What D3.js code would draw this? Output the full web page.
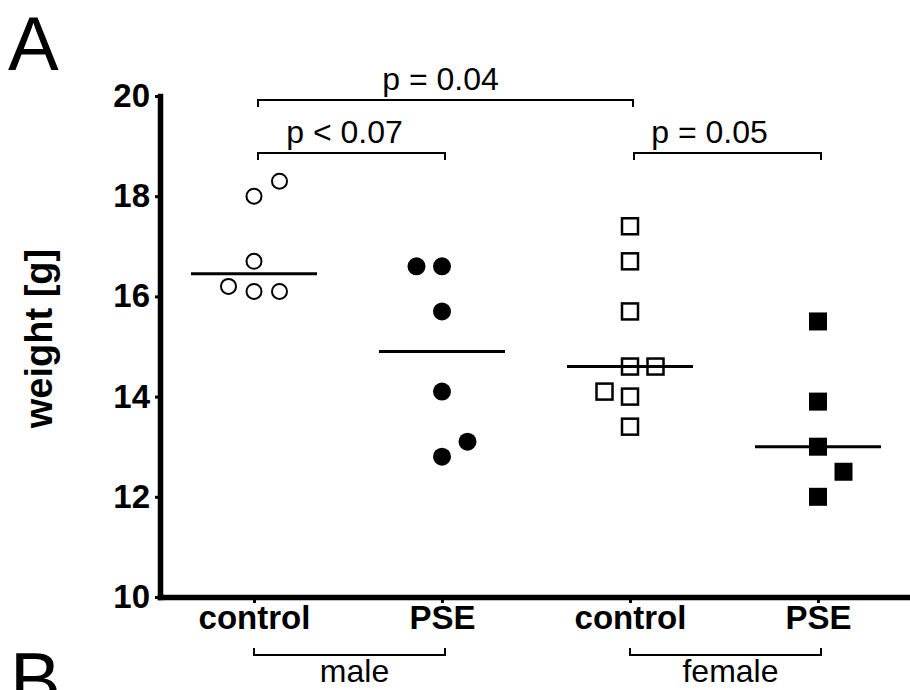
<!DOCTYPE html>
<html>
<head>
<meta charset="utf-8">
<script src="https://cdnjs.cloudflare.com/ajax/libs/d3/7.8.5/d3.min.js"></script>
<style>
  html, body { margin: 0; padding: 0; background: #fff; }
  svg { display: block; font-family: "Liberation Sans", Arial, sans-serif; }
</style>
</head>
<body>
<svg id="chart" width="910" height="690"></svg>
<script>
// ---------- data ----------
const groupIds = ["maleControl", "malePSE", "femaleControl", "femalePSE"];
const tickLabels = ["control", "PSE", "control", "PSE"];
const yTicks = [10, 12, 14, 16, 18, 20];

const maleControl   = [18.0, 18.3, 16.7, 16.2, 16.1, 16.1];
const malePSE       = [16.6, 16.6, 15.7, 14.1, 12.8, 13.1];
const femaleControl = [17.4, 16.7, 15.7, 14.6, 14.6, 14.1, 14.0, 13.4];
const femalePSE     = [15.5, 13.9, 13.0, 12.5, 12.0];

// column-scatter slot of each point (-1 left, 0 centre, 1 right)
const maleControlSlot   = [0, 1, 0, -1, 0, 1];
const malePSESlot       = [-1, 0, 0, 0, 0, 1];
const femaleControlSlot = [0, 0, 0, 0, 1, -1, 0, 0];
const femalePSESlot     = [0, 0, 0, 1, 0];

const symbols = ["openCircle", "filledCircle", "openSquare", "filledSquare"];

const sexGroups = ["male", "female"];
const sexSpans  = [[0, 1], [2, 3]];

const comparisons = [[0, 2], [0, 1], [2, 3]];
const pLabels = ["p = 0.04", "p < 0.07", "p = 0.05"];
const yLabel = "weight [g]";
const panelLabels = ["A", "B"];

// ---------- build ----------
const values = [maleControl, malePSE, femaleControl, femalePSE];
const slots  = [maleControlSlot, malePSESlot, femaleControlSlot, femalePSESlot];
const points = [];
values.forEach((arr, g) => arr.forEach((v, i) => points.push({g, v, slot: slots[g][i]})));

const svg = d3.select("#chart");
const FONT = '"Liberation Sans", Arial, sans-serif';

const x = d3.scalePoint().domain(d3.range(groupIds.length)).range([160, 912]).padding(0.5);
const y = d3.scaleLinear().domain([10, 20]).range([597, 96]);
const jitter = d3.scaleLinear().domain([0, 1]).range([0, 25.5]);

// panel letters
svg.append("text").attr("x", 8).attr("y", 70).attr("font-size", 76)
  .attr("font-family", FONT).text(panelLabels[0]);
svg.append("text").attr("x", 10).attr("y", 706).attr("font-size", 76)
  .attr("font-family", FONT).text(panelLabels[1]);

// y axis
const yAxis = svg.append("g").attr("transform", "translate(160,0)")
  .call(d3.axisLeft(y).tickValues(yTicks).tickSize(5).tickSizeOuter(0).tickPadding(5).tickFormat(d3.format("d")));
yAxis.select(".domain").attr("stroke", "#000").attr("stroke-width", 5.5).attr("stroke-linecap", "square");
yAxis.selectAll(".tick line").attr("stroke", "#000").attr("stroke-width", 3);
yAxis.selectAll(".tick text").attr("font-size", 33).attr("font-weight", "bold")
  .attr("font-family", FONT).attr("fill", "#000");

// x axis
const xAxis = svg.append("g").attr("transform", "translate(0,597)")
  .call(d3.axisBottom(x).tickSize(6).tickSizeOuter(0).tickPadding(6).tickFormat(i => tickLabels[i]));
xAxis.select(".domain").attr("stroke", "#000").attr("stroke-width", 5.5).attr("stroke-linecap", "square");
xAxis.selectAll(".tick line").attr("stroke", "#000").attr("stroke-width", 3);
xAxis.selectAll(".tick text").attr("font-size", 33).attr("font-weight", "bold")
  .attr("font-family", FONT).attr("fill", "#000").attr("dy", "0.6em");

// y label
svg.append("text")
  .attr("transform", `translate(52,${(y(10) + y(20)) / 2 - 8}) rotate(-90)`)
  .attr("text-anchor", "middle").attr("font-size", 38).attr("font-weight", "bold")
  .attr("font-family", FONT).text(yLabel);

// median lines
svg.append("g").selectAll("line").data(values).join("line")
  .attr("x1", (d, g) => x(g) - 63).attr("x2", (d, g) => x(g) + 63)
  .attr("y1", d => y(d3.median(d))).attr("y2", d => y(d3.median(d)))
  .attr("stroke", "#000").attr("stroke-width", 3);

// points
const pg = svg.append("g");
points.forEach(p => {
  const cx = x(p.g) + jitter(p.slot), cy = y(p.v);
  const s = symbols[p.g];
  if (s === "openCircle") {
    pg.append("circle").attr("cx", cx).attr("cy", cy).attr("r", 7.5)
      .attr("fill", "#fff").attr("stroke", "#000").attr("stroke-width", 2);
  } else if (s === "filledCircle") {
    pg.append("circle").attr("cx", cx).attr("cy", cy).attr("r", 9).attr("fill", "#000");
  } else if (s === "openSquare") {
    pg.append("rect").attr("x", cx - 8).attr("y", cy - 8).attr("width", 16).attr("height", 16)
      .attr("fill", "none").attr("stroke", "#000").attr("stroke-width", 2.5);
  } else {
    pg.append("rect").attr("x", cx - 9).attr("y", cy - 9).attr("width", 18).attr("height", 18)
      .attr("fill", "#000");
  }
});

// significance brackets
const bracketY = [100, 153, 153];
const labelDx = [-5, -7, -18];
comparisons.forEach(([a, b], i) => {
  const x1 = x(a) + 4, x2 = x(b) + 3, by = bracketY[i];
  svg.append("path").attr("d", `M${x1},${by + 7}V${by}H${x2}V${by + 7}`)
    .attr("fill", "none").attr("stroke", "#000").attr("stroke-width", 2);
  svg.append("text").attr("x", (x1 + x2) / 2 + labelDx[i]).attr("y", by - 10)
    .attr("text-anchor", "middle").attr("font-size", 32).attr("font-family", FONT).text(pLabels[i]);
});

// sex group brackets
sexSpans.forEach(([a, b], i) => {
  const x1 = x(a), x2 = x(b) + 3, by = 655;
  svg.append("path").attr("d", `M${x1},${by - 7}V${by}H${x2}V${by - 7}`)
    .attr("fill", "none").attr("stroke", "#000").attr("stroke-width", 2);
  svg.append("text").attr("x", (x1 + x2) / 2 + 5).attr("y", 682)
    .attr("text-anchor", "middle").attr("font-size", 32).attr("font-family", FONT).text(sexGroups[i]);
});
</script>
</body>
</html>
